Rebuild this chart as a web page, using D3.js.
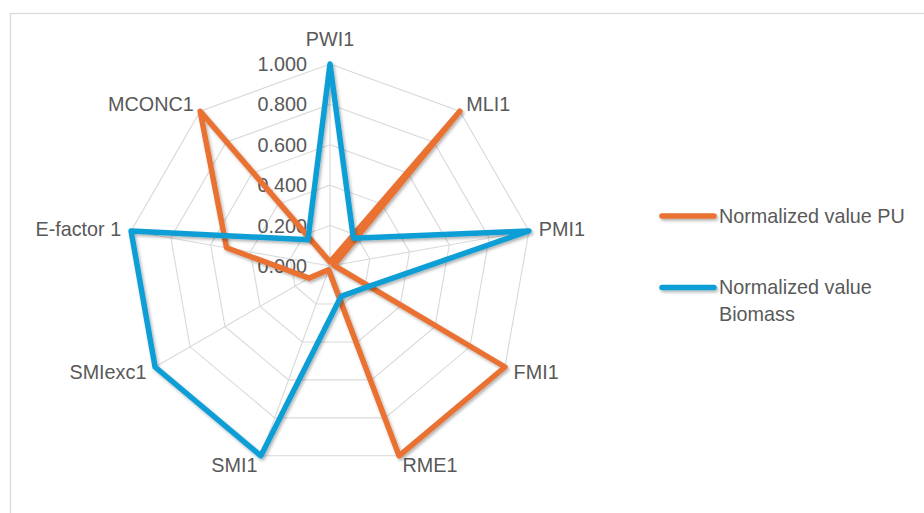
<!DOCTYPE html>
<html>
<head>
<meta charset="utf-8">
<script src="https://cdn.jsdelivr.net/npm/d3@7"></script>
<style>
  html, body { margin: 0; padding: 0; background: #fff; }
  svg { display: block; }
  text { font-family: "Liberation Sans", Arial, sans-serif; fill: #595959; }
</style>
</head>
<body>
<svg id="chart" width="924" height="513"></svg>
<script>
const categories = ["PWI1", "MLI1", "PMI1", "FMI1", "RME1", "SMI1", "SMIexc1", "E-factor 1", "MCONC1"];
const puValues = [0.02, 1.0, 0.02, 1.0, 1.0, 0.02, 0.12, 0.52, 1.0];
const biomassValues = [1.0, 0.18, 1.0, 0.21, 0.16, 1.0, 1.0, 1.0, 0.17];
const tickValues = [0, 0.2, 0.4, 0.6, 0.8, 1.0];
const seriesNames = ["Normalized value PU", "Normalized value Biomass"];
const seriesColors = ["#E97132", "#0F9ED5"];

const svg = d3.select("#chart");
const cx = 330, cy = 266, R = 202;
const fontSize = 19.8;

const defs = svg.append("defs");
const f = defs.append("filter").attr("id", "shadow")
  .attr("filterUnits", "userSpaceOnUse")
  .attr("x", 0).attr("y", 0).attr("width", 924).attr("height", 513);
f.append("feDropShadow").attr("dx", 1.5).attr("dy", 2).attr("stdDeviation", 1.8)
  .attr("flood-color", "#000").attr("flood-opacity", 0.3);

// chart area border
svg.append("rect").attr("x", 10.5).attr("y", 13.5).attr("width", 1000).attr("height", 600)
  .attr("fill", "#fff").attr("stroke", "#d9d9d9").attr("stroke-width", 1.3);

const r = d3.scaleLinear().domain([0, 1]).range([0, R]);
const angle = d3.scaleLinear().domain([0, categories.length]).range([0, 2 * Math.PI]);
const pt = (i, v) => [cx + r(v) * Math.sin(angle(i)), cy - r(v) * Math.cos(angle(i))];

const g = svg.append("g");

// rings
tickValues.filter(t => t > 0).forEach(t => {
  g.append("path")
    .attr("d", d3.line()(categories.map((c, i) => pt(i, t))) + "Z")
    .attr("fill", "none").attr("stroke", "#d9d9d9").attr("stroke-width", 1.1);
});
// spokes
categories.forEach((c, i) => {
  const p = pt(i, 1);
  g.append("line").attr("x1", cx).attr("y1", cy).attr("x2", p[0]).attr("y2", p[1])
    .attr("stroke", "#d9d9d9").attr("stroke-width", 1.1);
});

// tick labels
const fmt = d3.format(".3f");
tickValues.forEach(t => {
  g.append("text").attr("x", cx - 23).attr("y", cy - r(t))
    .attr("dy", "0.35em").attr("text-anchor", "end")
    .style("font-size", fontSize + "px").text(fmt(t));
});

// category labels
categories.forEach((c, i) => {
  const a = angle(i);
  const s = Math.sin(a);
  const p = pt(i, 1);
  const d = 10;
  let x = p[0] + d * s, y = p[1] - d * Math.cos(a);
  let anchor = Math.abs(s) < 0.05 ? "middle" : (s > 0 ? "start" : "end");
  const t = g.append("text").attr("x", x).attr("text-anchor", anchor)
    .style("font-size", fontSize + "px").text(c);
  if (Math.abs(s) < 0.05) {
    t.attr("y", cy - R - 18);
  } else {
    t.attr("y", y).attr("dy", "0.35em");
  }
});

// series
const line = d3.line().curve(d3.curveLinearClosed);
[puValues, biomassValues].forEach((vals, k) => {
  g.append("path")
    .attr("d", line(vals.map((v, i) => pt(i, v))))
    .attr("fill", "none").attr("stroke", seriesColors[k])
    .attr("stroke-width", 5.5).attr("stroke-linejoin", "round")
    .attr("filter", "url(#shadow)");
});

// legend
const legend = svg.append("g");
const legendItems = [
  { y: 216, lines: ["Normalized value PU"] },
  { y: 287.5, lines: ["Normalized value", "Biomass"] }
];
legendItems.forEach((item, k) => {
  legend.append("line").attr("x1", 662).attr("x2", 714).attr("y1", item.y).attr("y2", item.y)
    .attr("stroke", seriesColors[k]).attr("stroke-width", 5.5).attr("stroke-linecap", "round")
    .attr("filter", "url(#shadow)");
  const t = legend.append("text").attr("x", 719).attr("y", item.y)
    .style("font-size", fontSize + "px");
  item.lines.forEach((ln, j) => {
    t.append("tspan").attr("x", 719).attr("dy", j === 0 ? "0.35em" : "1.35em").text(ln);
  });
});
</script>
</body>
</html>
